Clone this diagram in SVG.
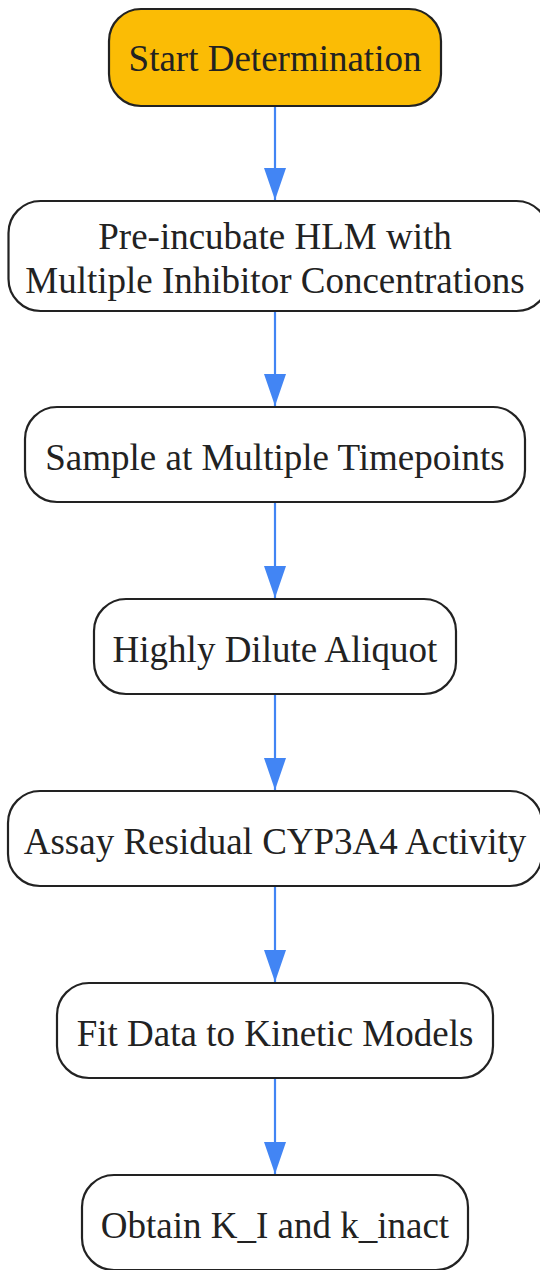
<svg xmlns="http://www.w3.org/2000/svg" width="540" height="1270" viewBox="0 0 540 1270">
<style>
.n{fill:#fff;stroke:#222;stroke-width:2.2}
.s{fill:#FBBC05}
.t{font-family:"Liberation Serif",serif;font-size:37px;fill:#222;text-anchor:middle}
.e{stroke:#4285F4;stroke-width:2.2;fill:none}
</style>
<defs>
<marker id="ah" viewBox="0 0 32 22" refX="32" refY="11" markerWidth="32" markerHeight="22" markerUnits="userSpaceOnUse" orient="auto">
<path d="M0,0 L32,11 L0,22 z" fill="#4285F4"/>
</marker>
</defs>
<g id="edges">
<path class="e" d="M275,106 V200" marker-end="url(#ah)"/>
<path class="e" d="M275,311 V406" marker-end="url(#ah)"/>
<path class="e" d="M275,502 V598" marker-end="url(#ah)"/>
<path class="e" d="M275,694 V790" marker-end="url(#ah)"/>
<path class="e" d="M275,886 V982" marker-end="url(#ah)"/>
<path class="e" d="M275,1078 V1174" marker-end="url(#ah)"/>
</g>
<g id="start">
<rect class="n s" x="109" y="9" width="332" height="97" rx="32"/>
<text class="t" x="275" y="71">Start Determination</text>
</g>
<g id="preincubate">
<rect class="n" x="8.5" y="201" width="540" height="110" rx="32"/>
<text class="t" x="275" y="249">Pre-incubate HLM with</text>
<text class="t" x="275" y="293">Multiple Inhibitor Concentrations</text>
</g>
<g id="sample">
<rect class="n" x="25" y="407" width="500" height="95" rx="32"/>
<text class="t" x="275" y="470">Sample at Multiple Timepoints</text>
</g>
<g id="dilute">
<rect class="n" x="94" y="599" width="362" height="95" rx="32"/>
<text class="t" x="275" y="662">Highly Dilute Aliquot</text>
</g>
<g id="assay">
<rect class="n" x="8" y="791" width="534" height="95" rx="32"/>
<text class="t" x="275" y="854">Assay Residual CYP3A4 Activity</text>
</g>
<g id="fit">
<rect class="n" x="57" y="983" width="436" height="95" rx="32"/>
<text class="t" x="275" y="1046">Fit Data to Kinetic Models</text>
</g>
<g id="obtain">
<rect class="n" x="82" y="1175" width="386" height="95" rx="32"/>
<text class="t" x="275" y="1238">Obtain K_I and k_inact</text>
</g>
</svg>
